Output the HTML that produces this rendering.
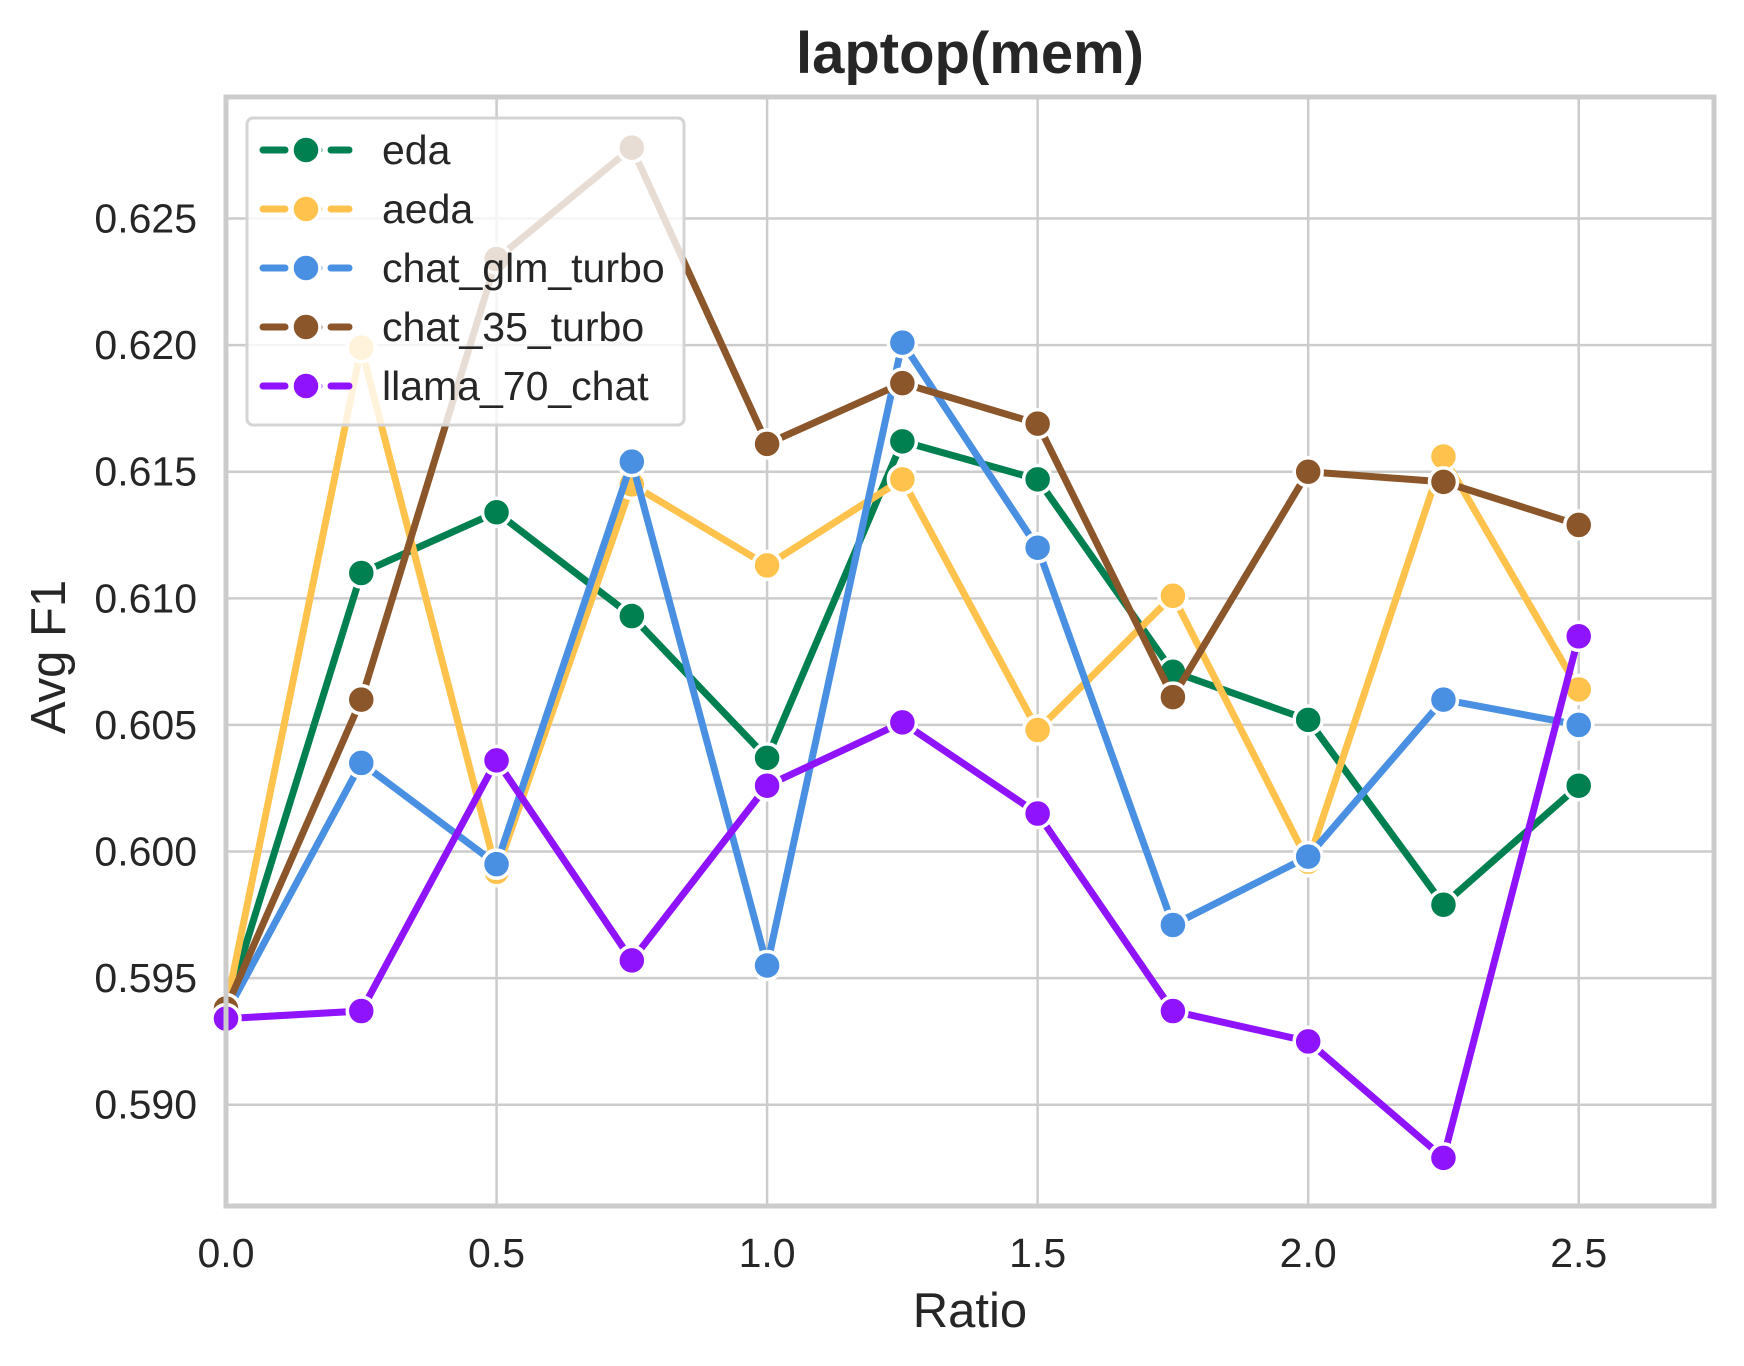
<!DOCTYPE html>
<html><head><meta charset="utf-8"><style>
html,body{margin:0;padding:0;background:#fff;}
svg{display:block;font-family:"Liberation Sans",Arial,sans-serif;}
</style></head><body>
<svg id="chart" width="1744" height="1366" viewBox="0 0 1744 1366" xmlns="http://www.w3.org/2000/svg">
<rect width="1744" height="1366" fill="#fff"/>
<g id="grid"></g>
<g id="series"></g>
<rect x="226" y="97" width="1488" height="1109" fill="none" stroke="#cccccc" stroke-width="5"/>
<g id="ticks"></g>
<g id="legend"></g>
<text x="970" y="73" font-size="58" font-weight="bold" text-anchor="middle" fill="#262626">laptop(mem)</text>
<text x="970" y="1327" font-size="49" text-anchor="middle" fill="#262626">Ratio</text>
<text x="0" y="0" font-size="49" text-anchor="middle" fill="#262626" transform="translate(65,657) rotate(-90)">Avg F1</text>
</svg>
<script>
const xValues = [0, 0.25, 0.5, 0.75, 1.0, 1.25, 1.5, 1.75, 2.0, 2.25, 2.5];
const seriesNames = ["eda", "aeda", "chat_glm_turbo", "chat_35_turbo", "llama_70_chat"];
const seriesColors = ["#008050", "#ffc34d", "#4a90e2", "#8b572a", "#9013fe"];
const edaValues = [0.5938, 0.6110, 0.6134, 0.6093, 0.6037, 0.6162, 0.6147, 0.6071, 0.6052, 0.5979, 0.6026];
const aedaValues = [0.5938, 0.6199, 0.5992, 0.6145, 0.6113, 0.6147, 0.6048, 0.6101, 0.5996, 0.6156, 0.6064];
const glmValues = [0.5936, 0.6035, 0.5995, 0.6154, 0.5955, 0.6201, 0.6120, 0.5971, 0.5998, 0.6060, 0.6050];
const chat35Values = [0.5938, 0.6060, 0.6234, 0.6278, 0.6161, 0.6185, 0.6169, 0.6061, 0.6150, 0.6146, 0.6129];
const llamaValues = [0.5934, 0.5937, 0.6036, 0.5957, 0.6026, 0.6051, 0.6015, 0.5937, 0.5925, 0.5879, 0.6085];
const xTicks = [0, 0.5, 1.0, 1.5, 2.0, 2.5];
const xTickLabels = ["0.0", "0.5", "1.0", "1.5", "2.0", "2.5"];
const yTicks = [0.590, 0.595, 0.600, 0.605, 0.610, 0.615, 0.620, 0.625];
const yTickLabels = ["0.590", "0.595", "0.600", "0.605", "0.610", "0.615", "0.620", "0.625"];

const NS = "http://www.w3.org/2000/svg";
const X0 = 226, X1 = 1714, Y0 = 1206, Y1 = 97;
const xMin = 0, xMax = 2.75, yMin = 0.5860, yMax = 0.6298;
function xs(v){ return X0 + (v - xMin) / (xMax - xMin) * (X1 - X0); }
function ys(v){ return Y0 - (v - yMin) / (yMax - yMin) * (Y0 - Y1); }
function mk(tag, attrs, parent){ const e = document.createElementNS(NS, tag); for (const k in attrs) e.setAttribute(k, attrs[k]); parent.appendChild(e); return e; }

const grid = document.getElementById('grid');
const ticks = document.getElementById('ticks');
xTicks.forEach((t, i) => {
  const l = mk('line', {x1: xs(t), x2: xs(t), y1: Y1, y2: Y0, stroke: '#cccccc', 'stroke-width': 2.5}, grid);
  
  
  const tx = mk('text', {x: xs(t), y: 1267, 'font-size': 41, 'text-anchor': 'middle', fill: '#262626'}, ticks);
  tx.textContent = xTickLabels[i];
  
  
});
yTicks.forEach((t, i) => {
  const l = mk('line', {x1: X0, x2: X1, y1: ys(t), y2: ys(t), stroke: '#cccccc', 'stroke-width': 2.5}, grid);
  
  
  const tx = mk('text', {x: 197, y: ys(t) + 14, 'font-size': 41, 'text-anchor': 'end', fill: '#262626'}, ticks);
  tx.textContent = yTickLabels[i];
  
  
});

const allValues = [edaValues, aedaValues, glmValues, chat35Values, llamaValues];
const seriesG = document.getElementById('series');
allValues.forEach((vals, si) => {
  const g = mk('g', {}, seriesG);
  
  
  const pts = vals.map((v, i) => xs(xValues[i]) + ',' + ys(v)).join(' ');
  const pl = mk('polyline', {points: pts, fill: 'none', stroke: seriesColors[si], 'stroke-width': 7, 'stroke-linejoin': 'round'}, g);
  
  
  vals.forEach((v, i) => {
    const c = mk('circle', {cx: xs(xValues[i]), cy: ys(v), r: 14, fill: seriesColors[si], stroke: '#fff', 'stroke-width': 3.5}, g);
    
    
  });
});

const lg = document.getElementById('legend');


mk('rect', {x: 247, y: 118, width: 437, height: 307, rx: 6, fill: 'rgba(255,255,255,0.8)', stroke: '#d4d4d4', 'stroke-width': 3}, lg);
seriesNames.forEach((n, i) => {
  const y = 150 + i * 59;
  const e = mk('g', {}, lg);
  
  
  mk('line', {x1: 263, x2: 349, y1: y, y2: y, stroke: seriesColors[i], 'stroke-width': 7, 'stroke-dasharray': '22,12', 'stroke-linecap': 'round'}, e);
  mk('circle', {cx: 306, cy: y, r: 14, fill: seriesColors[i], stroke: '#fff', 'stroke-width': 3.5}, e);
  const t = mk('text', {x: 382, y: y + 14, 'font-size': 41, fill: '#262626'}, e);
  t.textContent = n;
});
</script>
</body></html>
